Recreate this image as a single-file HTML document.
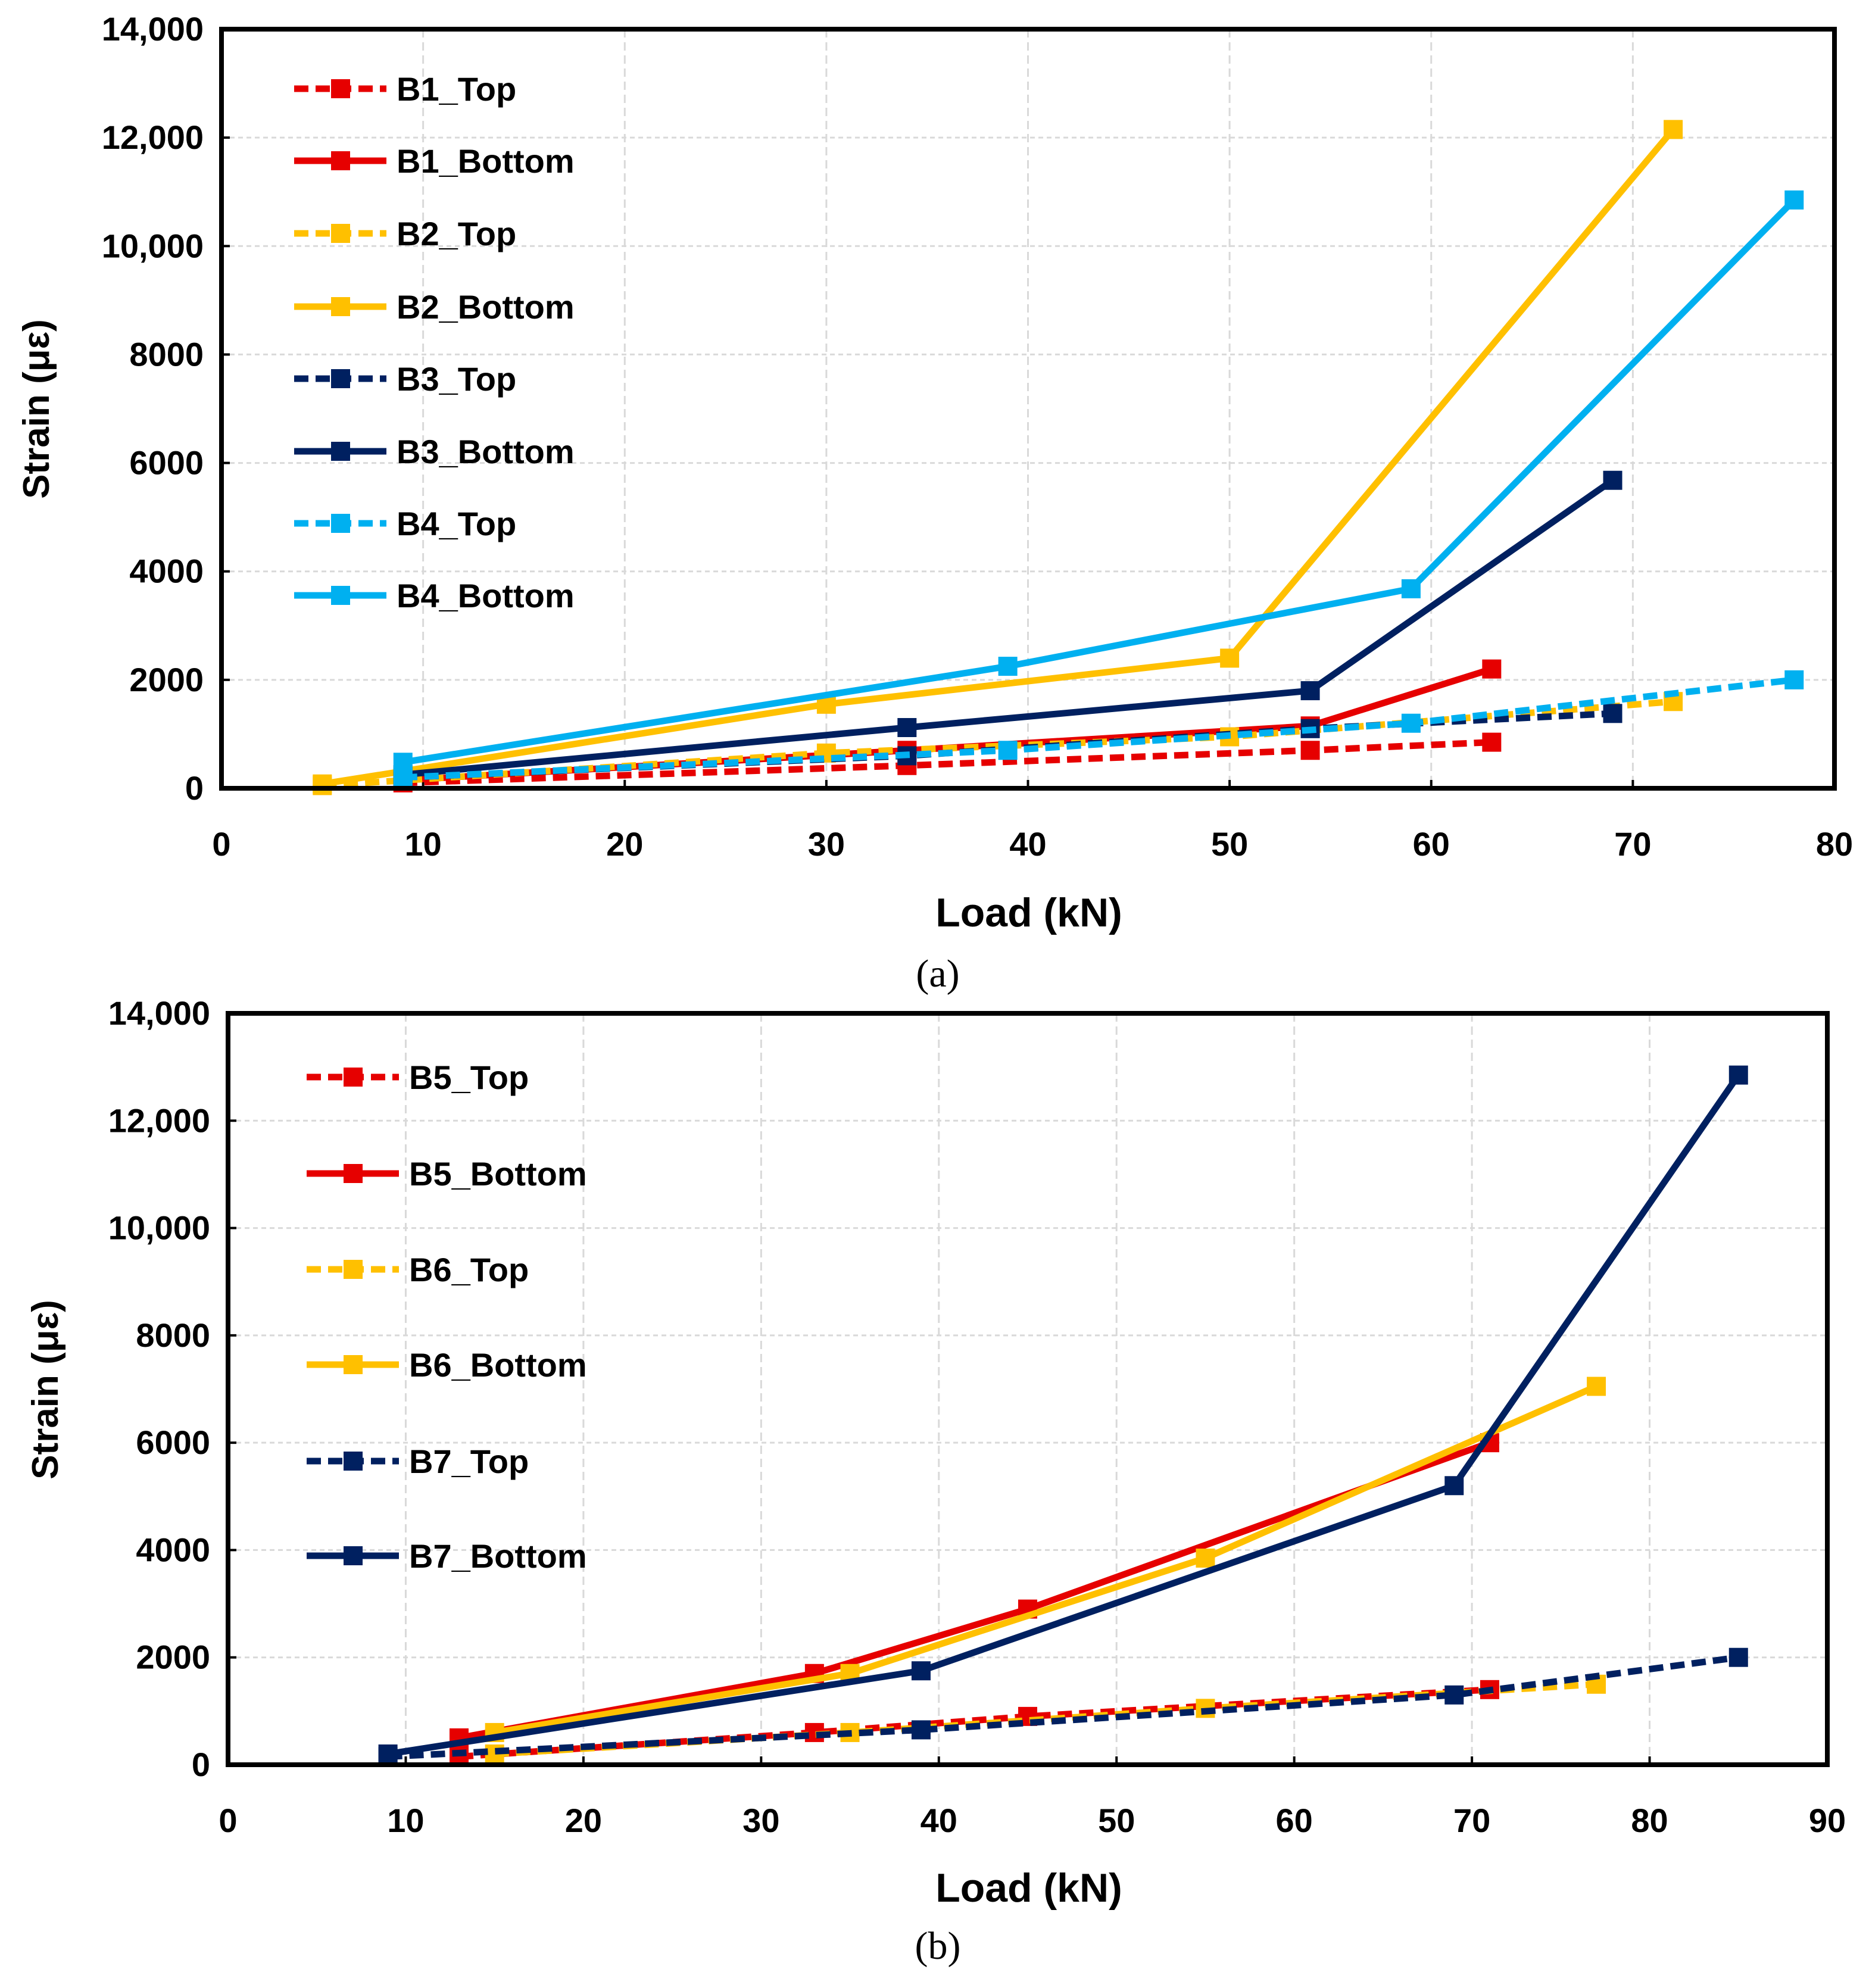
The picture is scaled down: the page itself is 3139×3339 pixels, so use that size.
<!DOCTYPE html>
<html><head><meta charset="utf-8"><style>
html,body{margin:0;padding:0;background:#fff;}
svg{display:block;}
text{font-family:"Liberation Sans",sans-serif;}
text.serif{font-family:"Liberation Serif",serif;}
</style></head><body>
<svg id="chart" width="3139" height="3339" viewBox="0 0 3139 3339" xmlns="http://www.w3.org/2000/svg"></svg>
<script>
const NS='http://www.w3.org/2000/svg';
const svg=document.getElementById('chart');
// ---- Panel (a) data ----
const aXTicks=[0,10,20,30,40,50,60,70,80];
const aYTicks=[0,2000,4000,6000,8000,10000,12000,14000];
const aYLabels=['0','2000','4000','6000','8000','10,000','12,000','14,000'];
const aNames=['B1_Top','B1_Bottom','B2_Top','B2_Bottom','B3_Top','B3_Bottom','B4_Top','B4_Bottom'];
const aLoads=[[9,34,54,63],[9,34,54,63],[5,30,50,72],[5,30,50,72],[9,34,54,69],[9,34,54,69],[9,39,59,78],[9,39,59,78]];
const aStrain=[[100,420,700,850],[150,700,1150,2200],[50,650,950,1600],[80,1550,2400,12150],[200,600,1100,1380],[250,1120,1800,5680],[200,700,1200,2000],[480,2250,3680,10850]];
// ---- Panel (b) data ----
const bXTicks=[0,10,20,30,40,50,60,70,80,90];
const bYTicks=aYTicks;
const bYLabels=aYLabels;
const bNames=['B5_Top','B5_Bottom','B6_Top','B6_Bottom','B7_Top','B7_Bottom'];
const bLoads=[[13,33,45,71],[13,33,45,71],[15,35,55,77],[15,35,55,77],[9,39,69,85],[9,39,69,85]];
const bStrain=[[150,600,900,1400],[500,1700,2900,6000],[200,600,1050,1500],[600,1700,3850,7050],[150,650,1300,2000],[200,1750,5200,12850]];

const RED='#e60000',YEL='#ffc000',NAVY='#002060',CYAN='#00b0f0';
const aColors=[RED,RED,YEL,YEL,NAVY,NAVY,CYAN,CYAN];
const bColors=[RED,RED,YEL,YEL,NAVY,NAVY];

function el(tag,attrs,parent){const e=document.createElementNS(NS,tag);for(const k in attrs)e.setAttribute(k,attrs[k]);(parent||svg).appendChild(e);return e;}

function panel(cfg){
  const g=el('g',{});
  
  
  const xs=v=>cfg.L+(v-cfg.xmin)/(cfg.xmax-cfg.xmin)*(cfg.R-cfg.L);
  const ys=v=>cfg.B-(v/14000)*(cfg.B-cfg.T);
  cfg.xticks.forEach(t=>{
    if(t>cfg.xmin&&t<cfg.xmax){const l=el('line',{x1:xs(t),x2:xs(t),y1:cfg.T,y2:cfg.B,stroke:'#d9d9d9','stroke-width':3,'stroke-dasharray':'14 8'},g);
    }
    const tk=el('line',{x1:xs(t),x2:xs(t),y1:cfg.B,y2:cfg.B-14,stroke:'#000','stroke-width':4},g);
    
    const tx=el('text',{x:xs(t),y:cfg.B+113,'text-anchor':'middle','font-size':56,'font-weight':'bold',fill:'#000'},g);
    tx.textContent=t;
    
  });
  cfg.yticks.forEach((t,i)=>{
    if(t>0&&t<14000){const l=el('line',{x1:cfg.L,x2:cfg.R,y1:ys(t),y2:ys(t),stroke:'#d9d9d9','stroke-width':3,'stroke-dasharray':'8 6'},g);
    }
    const tk=el('line',{x1:cfg.L,x2:cfg.L+14,y1:ys(t),y2:ys(t),stroke:'#000','stroke-width':4},g);
    
    const tx=el('text',{x:cfg.L-30,y:ys(t)+19,'text-anchor':'end','font-size':56,'font-weight':'bold',fill:'#000'},g);
    tx.textContent=cfg.ylabels[i];
    
  });
  cfg.names.forEach((n,i)=>{
    const dashed=n.endsWith('_Top');
    const sg=el('g',{},g);
    
    
    const pts=cfg.loads[i].map((x,j)=>xs(x)+','+ys(cfg.strain[i][j])).join(' ');
    const pl=el('polyline',{points:pts,fill:'none',stroke:cfg.colors[i],'stroke-width':11,'stroke-dasharray':dashed?'24 12':'none'},sg);
    
    
    cfg.loads[i].forEach((x,j)=>{
      const m=el('rect',{x:xs(x)-16,y:ys(cfg.strain[i][j])-16,width:32,height:32,fill:cfg.colors[i]},sg);
      
      
    });
  });
  const fr=el('rect',{x:cfg.L,y:cfg.T,width:cfg.R-cfg.L,height:cfg.B-cfg.T,fill:'none',stroke:'#000','stroke-width':8},g);
  
  const lg=el('g',{},g);
  
  cfg.names.forEach((n,i)=>{
    const y=cfg.legY[i];
    const eg=el('g',{},lg);
    
    el('line',{x1:cfg.legX,x2:cfg.legX+155,y1:y,y2:y,stroke:cfg.colors[i],'stroke-width':11,'stroke-dasharray':n.endsWith('_Top')?'24 12':'none'},eg);
    el('rect',{x:cfg.legX+62,y:y-16,width:32,height:32,fill:cfg.colors[i]},eg);
    const t=el('text',{x:cfg.legX+172,y:y+20,'font-size':56,'font-weight':'bold',fill:'#000'},eg);
    t.textContent=n;
  });
  const yt=el('text',{x:0,y:0,transform:`translate(${cfg.ytX},${cfg.ytY}) rotate(-90)`,'text-anchor':'middle','font-size':62,'font-weight':'bold',fill:'#000'},g);
  yt.textContent='Strain (με)';
  
  const xt=el('text',{x:1728,y:cfg.xtY,'text-anchor':'middle','font-size':68,'font-weight':'bold',fill:'#000'},g);
  xt.textContent='Load (kN)';
  
  const cp=el('text',{x:1575,y:cfg.capY,'text-anchor':'middle','font-size':66,fill:'#000','class':'serif'},g);
  cp.textContent=cfg.caption;
  
}
panel({id:'a',L:372,R:3081,T:49,B:1324,xmin:0,xmax:80,xticks:aXTicks,yticks:aYTicks,ylabels:aYLabels,names:aNames,loads:aLoads,strain:aStrain,colors:aColors,
  legX:494,legY:[149,270,392,515,636,758,879,1000],ytX:82,ytY:687,xtY:1556,capY:1657,caption:'(a)'});
panel({id:'b',L:383,R:3069,T:1702,B:2964,xmin:0,xmax:90,xticks:bXTicks,yticks:bYTicks,ylabels:bYLabels,names:bNames,loads:bLoads,strain:bStrain,colors:bColors,
  legX:515,legY:[1809,1971,2132,2292,2454,2613],ytX:97,ytY:2334,xtY:3194,capY:3290,caption:'(b)'});
</script>
</body></html>
